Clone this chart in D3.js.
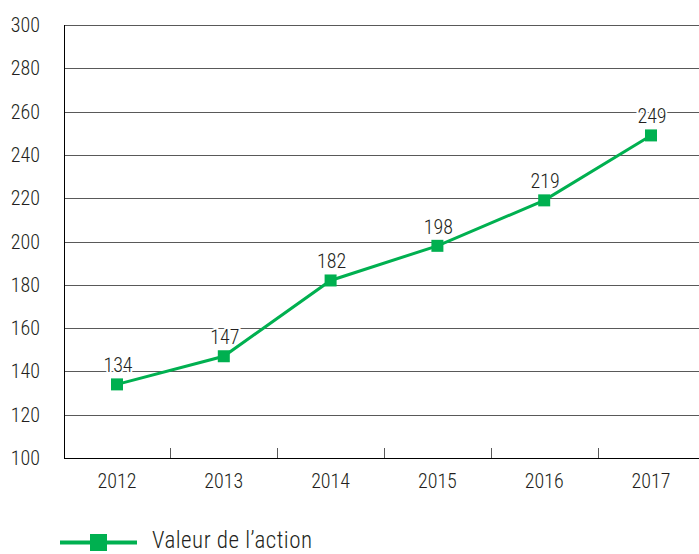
<!DOCTYPE html>
<html>
<head>
<meta charset="utf-8">
<script src="https://cdn.jsdelivr.net/npm/d3@7"></script>
<style>
  body { margin: 0; background: #fff; }
  svg text { font-family: "Roboto Condensed", "Liberation Sans Narrow", "Roboto", sans-serif; font-weight: 300; fill: #231f20; }
</style>
</head>
<body>
<svg id="chart" width="699" height="554"></svg>
<script>
var years = ["2012", "2013", "2014", "2015", "2016", "2017"];
var values = [134, 147, 182, 198, 219, 249];
var yTicks = [100, 120, 140, 160, 180, 200, 220, 240, 260, 280, 300];
var seriesName = "Valeur de l\u2019action";

var green = "#00b050";
var svg = d3.select("#chart");

var x = d3.scaleBand().domain(years).range([63.6, 704.4]);
var y = d3.scaleLinear().domain([100, 300]).range([458, 25]);

// gridlines
svg.append("g").selectAll("line")
  .data(yTicks.slice(1))
  .enter().append("line")
  .attr("x1", 64).attr("x2", 699)
  .attr("y1", function(d){ return Math.round(y(d)) + 0.5; })
  .attr("y2", function(d){ return Math.round(y(d)) + 0.5; })
  .attr("stroke", "#595959").attr("stroke-width", 1);

// y axis line
svg.append("line")
  .attr("x1", 64.5).attr("x2", 64.5).attr("y1", 25).attr("y2", 458)
  .attr("stroke", "#000").attr("stroke-width", 1);

// x axis line
svg.append("line")
  .attr("x1", 64).attr("x2", 699).attr("y1", 458.5).attr("y2", 458.5)
  .attr("stroke", "#000").attr("stroke-width", 1);

// ticks between categories
svg.append("g").selectAll("line")
  .data(years.slice(1))
  .enter().append("line")
  .attr("x1", function(d){ return Math.round(x(d)) + 0.5; })
  .attr("x2", function(d){ return Math.round(x(d)) + 0.5; })
  .attr("y1", 448).attr("y2", 458)
  .attr("stroke", "#595959").attr("stroke-width", 1);

// y tick labels
svg.append("g").selectAll("text")
  .data(yTicks)
  .enter().append("text")
  .attr("x", 40).attr("y", function(d){ return y(d) + 7; })
  .attr("text-anchor", "end")
  .style("font-size", "20px")
  .text(function(d){ return d; });

// x labels
svg.append("g").selectAll("text")
  .data(years)
  .enter().append("text")
  .attr("x", function(d){ return x(d) + x.bandwidth() / 2; })
  .attr("y", 488)
  .attr("text-anchor", "middle")
  .style("font-size", "20px")
  .text(function(d){ return d; });

var pts = years.map(function(d, i){ return [x(d) + x.bandwidth() / 2, y(values[i]), values[i]]; });

svg.append("path")
  .attr("d", d3.line()(pts.map(function(p){ return [p[0], p[1]]; })))
  .attr("fill", "none").attr("stroke", green).attr("stroke-width", 3);

svg.append("g").selectAll("rect")
  .data(pts)
  .enter().append("rect")
  .attr("x", function(p){ return p[0] - 6; })
  .attr("y", function(p){ return p[1] - 6; })
  .attr("width", 12).attr("height", 12)
  .attr("fill", green);

svg.append("g").selectAll("text")
  .data(pts)
  .enter().append("text")
  .attr("x", function(p){ return p[0] + 1; })
  .attr("y", function(p){ return p[1] - 12; })
  .attr("text-anchor", "middle")
  .style("font-size", "20px")
  .attr("stroke", "#fff").attr("stroke-width", 4).attr("paint-order", "stroke")
  .text(function(p){ return p[2]; });

// legend
var lg = svg.append("g");
lg.append("line").attr("x1", 60).attr("x2", 137).attr("y1", 542.5).attr("y2", 542.5)
  .attr("stroke", green).attr("stroke-width", 4);
lg.append("rect").attr("x", 90).attr("y", 534).attr("width", 17).attr("height", 17).attr("fill", green);
lg.append("text").attr("x", 152).attr("y", 547.5)
  .style("font-size", "23px")
  .attr("textLength", 160).attr("lengthAdjust", "spacing")
  .text(seriesName);
</script>
</body>
</html>
